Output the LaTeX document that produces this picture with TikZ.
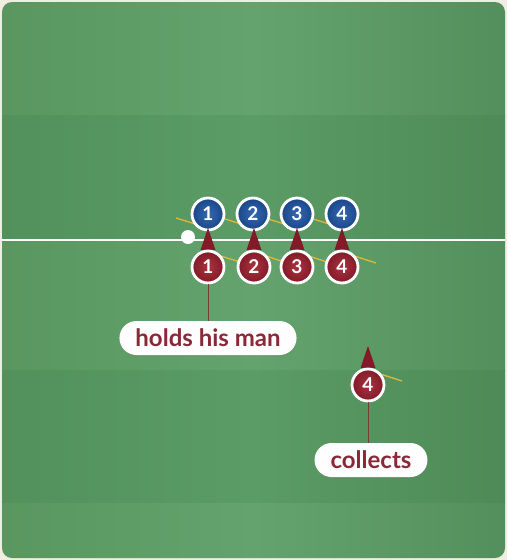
\documentclass[tikz,border=0pt]{standalone}
\usepackage{fontspec}
\setsansfont{Lato}
\usetikzlibrary{shadows}
\definecolor{cream}{HTML}{F0EDE1}
\definecolor{turfa}{HTML}{59975F}
\definecolor{turfb}{HTML}{64A36E}
\definecolor{turfc}{HTML}{538F5C}
\definecolor{turfd}{HTML}{52915B}
\definecolor{turfe}{HTML}{5B9B65}
\definecolor{turff}{HTML}{4D8A57}
\definecolor{teamblue}{HTML}{1A4688}
\definecolor{teambluehi}{HTML}{3468B0}
\definecolor{teamred}{HTML}{821A28}
\definecolor{teamredhi}{HTML}{A9333F}
\definecolor{sightline}{HTML}{E3B63A}
\definecolor{leader}{HTML}{7A3A36}
\definecolor{labeltext}{HTML}{8A2838}
\tikzset{
  player/.style={circle,draw=white,line width=2.8pt,minimum size=32pt,inner sep=0pt,
    text=white,font=\sffamily\bfseries\fontsize{19}{19}\selectfont,
    drop shadow={opacity=0.3,shadow xshift=1pt,shadow yshift=-1.5pt}},
  blueplayer/.style={player,inner color=teambluehi,outer color=teamblue},
  redplayer/.style={player,inner color=teamredhi,outer color=teamred},
  facing/.style={fill=teamred},
  sight/.style={draw=sightline,line width=1.3pt},
  lightband/.style={left color=turfa,right color=turfc,middle color=turfb},
  darkband/.style={left color=turfd,right color=turff,middle color=turfe},
  tag/.style={rectangle,rounded corners=17pt,fill=white!97!cream,minimum height=34pt,
    inner xsep=16pt,text=labeltext,font=\sffamily\bfseries\fontsize{24}{24}\selectfont,
    drop shadow={opacity=0.25,shadow xshift=1pt,shadow yshift=-1.5pt}},
  ball/.style={circle,fill=white!95!cream,minimum size=14pt,inner sep=0pt}
}
\begin{document}
\begin{tikzpicture}[x=1pt,y=-1pt]
  \useasboundingbox (0,0) rectangle (507,560);
  \fill[cream] (0,0) rectangle (507,560);
  % pitch with mown stripes
  \begin{scope}
    \clip[rounded corners=10pt] (2,2) rectangle (505,558);
    \shade[lightband] (0,0) rectangle (507,115);
    \shade[darkband] (0,115) rectangle (507,240);
    \shade[lightband] (0,240) rectangle (507,370);
    \shade[darkband] (0,370) rectangle (507,503);
    \shade[lightband] (0,503) rectangle (507,560);
    \draw[white!92!cream,line width=2.5pt] (0,240) -- (507,240);
  \end{scope}
  % red positions
  \coordinate (p1) at (208,267);
  \coordinate (p2) at (254,267);
  \coordinate (p3) at (297,267);
  \coordinate (p4) at (342,267);
  \coordinate (p5) at (368,385);
  % sight lines
  \begin{scope}
    \draw[sight] ([yshift=39pt]p1) -- ++(-32,-10);
    \draw[sight] ([yshift=39pt]p2) -- ++(-32,-10);
    \draw[sight] ([yshift=39pt]p3) -- ++(-32,-10);
    \draw[sight] ([yshift=39pt]p4) -- ++(-32,-10);
    \draw[sight] ([yshift=15pt]p1) -- ++(32,10);
    \draw[sight] ([yshift=15pt]p2) -- ++(30,10);
    \draw[sight] ([yshift=15pt]p3) -- ++(30,10);
    \draw[sight] ([yshift=15pt]p4) -- ++(34,11);
    \draw[sight] ([yshift=15pt]p5) -- ++(34,11);
  \end{scope}
  \node[ball] (ball) at (188,237) {};
  \draw
    (208,214) node[blueplayer] (b1){1}
    (253,214) node[blueplayer] (b2){2}
    (297,214) node[blueplayer] (b3){3}
    (342,214) node[blueplayer] (b4){4};
  % facing markers
  \begin{scope}
    \fill[facing] ([shift={(-7.5pt,17pt)}]p1) -- ([yshift=39pt]p1) -- ([shift={(7.5pt,17pt)}]p1) -- cycle;
    \fill[facing] ([shift={(-7.5pt,17pt)}]p2) -- ([yshift=39pt]p2) -- ([shift={(7.5pt,17pt)}]p2) -- cycle;
    \fill[facing] ([shift={(-7.5pt,17pt)}]p3) -- ([yshift=39pt]p3) -- ([shift={(7.5pt,17pt)}]p3) -- cycle;
    \fill[facing] ([shift={(-7.5pt,17pt)}]p4) -- ([yshift=39pt]p4) -- ([shift={(7.5pt,17pt)}]p4) -- cycle;
    \fill[facing] ([shift={(-7.5pt,17pt)}]p5) -- ([yshift=39pt]p5) -- ([shift={(7.5pt,17pt)}]p5) -- cycle;
  \end{scope}
  \draw
    (p1) node[redplayer] (r1){1}
    (p2) node[redplayer] (r2){2}
    (p3) node[redplayer] (r3){3}
    (p4) node[redplayer] (r4){4}
    (p5) node[redplayer] (r5){4};
  \node[tag] (hold) at (208,338) {holds his man};
  \node[tag] (coll) at (371,460) {collects};
  \begin{scope}[leader,line width=1pt]
    \draw (r1.south) -- (r1.south |- hold.north);
    \draw (r5.south) -- (r5.south |- coll.north);
  \end{scope}
\end{tikzpicture}
\end{document}
